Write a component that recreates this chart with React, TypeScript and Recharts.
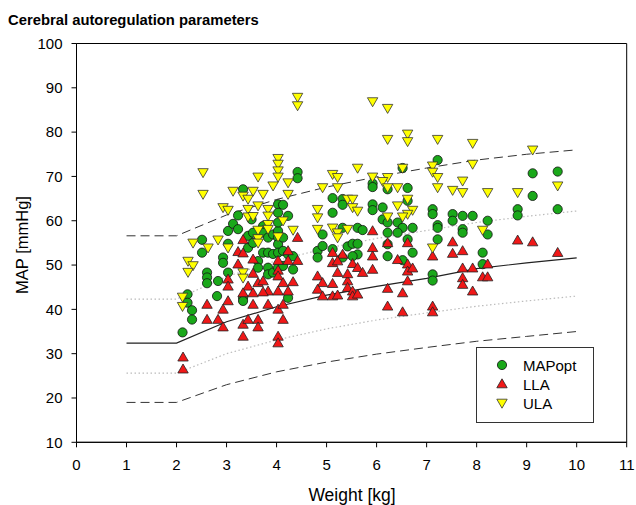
import { ScatterChart, Scatter, XAxis, YAxis, ReferenceArea } from 'recharts';

const FONT = '"Liberation Sans", Arial, Helvetica, sans-serif';

const xTicks = [0, 1, 2, 3, 4, 5, 6, 7, 8, 9, 10, 11];
const yTicks = [10, 20, 30, 40, 50, 60, 70, 80, 90, 100];

// reference curves
const curveWeights = [1, 2, 3, 4, 5, 6, 7, 8, 9, 10];
const upperDashed = [56.6, 56.6, 61.3, 64.8, 67.6, 69.9, 71.9, 73.7, 75.0, 76.0];
const upperDotted = [42.3, 42.3, 47.4, 51.0, 53.8, 56.0, 57.8, 59.6, 61.0, 62.2];
const median = [32.4, 32.4, 37.2, 40.6, 43.2, 45.2, 47.0, 49.2, 50.5, 51.6];
const lowerDotted = [25.6, 25.6, 30.0, 33.1, 35.6, 37.6, 39.2, 40.7, 41.9, 43.0];
const lowerDashed = [19.0, 19.0, 23.0, 25.9, 28.1, 29.9, 31.4, 32.8, 33.9, 35.0];

// [weight kg, MAP mmHg]
const mapOpt: [number, number][] = [
  [2.51, 55.7], [2.51, 52.8], [2.61, 48.3], [2.61, 47.2], [2.61, 45.9], [2.83, 46.4],
  [2.93, 51.7], [2.93, 50.5], [2.22, 43.4], [2.22, 41.5], [2.31, 39.8], [2.31, 37.7],
  [2.81, 43.0], [2.12, 34.8], [3.03, 54.8], [3.03, 57.7], [3.03, 48.3], [3.13, 59.3],
  [3.23, 61.2], [3.23, 58.1], [3.33, 67.1], [3.33, 42.6], [3.33, 41.9], [3.43, 56.6],
  [3.43, 53.9], [3.53, 57.3], [3.53, 55.0], [3.5, 60.3], [3.73, 58.8], [3.73, 57.3],
  [3.83, 56.2], [3.93, 56.9], [4.03, 57.7], [4.03, 56.2], [4.03, 54.7], [4.13, 56.2],
  [4.23, 61.1], [4.03, 63.7], [4.13, 63.6], [4.03, 61.8], [4.03, 59.6], [4.42, 71.0],
  [4.42, 69.6], [3.73, 52.8], [3.83, 52.8], [3.93, 52.5], [4.03, 52.8], [4.13, 53.2],
  [3.63, 50.9], [3.63, 49.4], [3.83, 49.4], [3.83, 47.9], [3.93, 48.3], [4.03, 49.4],
  [4.13, 49.8], [4.33, 49.0], [4.23, 52.4], [4.33, 52.0], [4.23, 42.6], [4.82, 53.2],
  [4.82, 51.7], [5.12, 65.1], [5.12, 61.8], [4.92, 56.9], [5.32, 64.9], [5.32, 63.6],
  [5.62, 58.4], [5.72, 57.9], [5.32, 58.4], [5.12, 53.6], [5.42, 54.2], [5.52, 54.8],
  [5.62, 54.8], [5.62, 52.4], [5.32, 51.7], [5.52, 52.0], [4.92, 54.3], [5.92, 68.4],
  [5.92, 67.6], [6.22, 67.1], [6.62, 67.4], [5.92, 63.7], [5.92, 62.4], [6.12, 63.0],
  [6.62, 64.5], [7.12, 62.6], [7.12, 61.5], [7.22, 73.7], [6.52, 71.9], [7.52, 61.5],
  [7.72, 61.1], [7.92, 61.1], [8.22, 60.0], [7.52, 60.0], [7.22, 59.0], [7.22, 58.4],
  [7.72, 58.1], [7.72, 57.3], [8.22, 56.9], [6.12, 60.3], [6.22, 59.6], [6.22, 57.3],
  [6.42, 59.6], [6.52, 58.4], [6.72, 58.4], [6.42, 57.3], [7.22, 55.8], [6.62, 55.8],
  [6.72, 52.8], [6.22, 54.7], [6.22, 52.0], [6.52, 51.1], [7.12, 47.9], [7.12, 46.5],
  [8.12, 52.8], [8.12, 50.2], [9.12, 70.7], [9.62, 71.1], [9.12, 65.6], [9.62, 62.6],
  [8.82, 62.6], [8.82, 61.2],
];

const lla: [number, number][] = [
  [2.61, 41.1], [2.61, 37.7], [2.83, 37.7], [2.13, 29.2], [2.13, 26.5], [3.33, 55.7],
  [4.42, 56.2], [3.23, 53.0], [3.33, 52.7], [3.53, 51.3], [4.03, 51.0], [4.23, 53.2],
  [4.23, 51.0], [4.42, 51.0], [3.23, 50.2], [3.53, 48.1], [4.03, 48.8], [4.03, 47.5],
  [3.03, 46.8], [3.03, 45.2], [3.43, 45.2], [3.63, 46.0], [3.73, 46.4], [3.83, 44.1],
  [4.03, 44.1], [4.13, 46.0], [4.23, 44.1], [4.33, 46.2], [3.33, 43.7], [3.53, 43.7],
  [3.73, 43.9], [3.03, 41.9], [2.93, 40.0], [3.53, 41.1], [3.83, 41.1], [4.03, 40.0],
  [4.13, 41.1], [2.93, 36.0], [3.33, 36.6], [3.43, 37.7], [3.63, 37.7], [3.63, 36.0],
  [4.13, 37.7], [3.33, 33.9], [4.03, 33.9], [4.03, 32.4], [4.82, 47.5], [4.92, 46.0],
  [4.82, 44.5], [4.92, 43.0], [5.12, 45.8], [5.12, 43.0], [5.22, 48.3], [5.22, 43.2],
  [5.42, 46.4], [5.42, 44.9], [5.52, 44.1], [5.52, 43.0], [5.62, 43.4], [5.12, 52.8],
  [5.12, 50.5], [5.32, 52.4], [5.22, 50.9], [5.52, 50.3], [5.62, 49.4], [5.72, 48.3],
  [5.92, 49.0], [5.42, 48.0], [5.92, 57.7], [6.22, 55.0], [6.62, 55.0], [7.52, 55.2],
  [7.72, 53.2], [7.52, 52.6], [5.92, 53.9], [5.92, 52.0], [7.12, 52.0], [6.42, 51.2],
  [6.62, 50.2], [6.62, 48.6], [6.72, 49.3], [6.62, 46.4], [6.22, 44.7], [6.52, 43.7],
  [6.22, 40.7], [6.52, 39.4], [7.12, 40.7], [7.12, 39.4], [7.72, 49.3], [7.92, 49.3],
  [7.72, 47.1], [7.72, 45.6], [7.92, 44.1], [8.12, 47.3], [8.22, 47.3], [8.22, 50.2],
  [8.82, 55.6], [9.12, 55.2], [9.62, 52.8],
];

const ula: [number, number][] = [
  [2.53, 66.0], [2.53, 70.9], [2.33, 55.0], [2.63, 53.9], [2.83, 55.7], [2.23, 50.9],
  [2.33, 49.9], [2.23, 48.4], [2.12, 42.8], [2.12, 40.7], [4.42, 87.9], [4.42, 86.0],
  [4.03, 74.1], [4.03, 72.8], [4.03, 71.3], [4.03, 69.9], [3.63, 69.9], [3.93, 67.9],
  [4.23, 68.6], [4.23, 66.0], [3.13, 66.7], [3.33, 65.6], [3.53, 66.7], [3.73, 66.0],
  [3.43, 64.9], [2.93, 63.0], [3.03, 62.4], [3.43, 62.6], [3.63, 63.4], [3.83, 62.6],
  [3.43, 60.9], [3.53, 61.0], [3.83, 61.1], [3.83, 59.2], [3.83, 58.1], [3.63, 57.9],
  [4.13, 60.0], [4.33, 57.9], [3.63, 56.0], [3.63, 55.0], [4.03, 56.4], [3.03, 53.9],
  [3.33, 48.3], [3.33, 47.1], [4.82, 62.6], [4.82, 60.7], [4.82, 58.1], [4.92, 67.5],
  [5.12, 70.5], [5.22, 69.8], [5.22, 67.5], [5.12, 58.4], [5.22, 57.3], [5.22, 56.2],
  [5.42, 58.1], [5.92, 86.9], [6.22, 85.4], [6.22, 78.4], [6.62, 79.6], [6.62, 77.9],
  [7.22, 78.4], [7.92, 77.5], [5.62, 71.9], [5.92, 69.9], [6.22, 69.8], [6.12, 68.9],
  [6.52, 71.9], [7.12, 72.4], [7.12, 71.0], [7.22, 69.8], [7.92, 72.8], [7.72, 69.0],
  [7.72, 66.4], [7.52, 66.9], [8.22, 66.4], [7.22, 67.5], [6.22, 67.5], [6.42, 67.5],
  [5.42, 64.9], [5.52, 64.9], [5.52, 63.0], [5.62, 62.2], [6.62, 64.9], [6.42, 63.4],
  [6.72, 62.4], [6.62, 61.5], [6.22, 60.9], [6.52, 60.9], [8.12, 57.9], [7.12, 53.9],
  [9.12, 76.0], [9.62, 67.9], [8.82, 66.4],
];

const GREEN = '#1aa81a';
const RED = '#f01818';
const YELLOW = '#ffff00';

const toPoints = (pts: [number, number][]) => pts.map(([x, y]) => ({ x, y }));
const toCurve = (vals: number[]) => curveWeights.map((x, i) => ({ x, y: vals[i] }));

const Dot = (p: any) => (
  <circle cx={p.cx} cy={p.cy} r={4.6} fill={GREEN} stroke="#111" strokeWidth={0.8} />
);
const TriUp = (p: any) => (
  <path
    d={`M${p.cx},${p.cy - 5.2} L${p.cx + 5.2},${p.cy + 3.8} L${p.cx - 5.2},${p.cy + 3.8} Z`}
    fill={RED}
    stroke="#222"
    strokeWidth={0.8}
  />
);
const TriDown = (p: any) => (
  <path
    d={`M${p.cx},${p.cy + 5.2} L${p.cx + 5.2},${p.cy - 3.8} L${p.cx - 5.2},${p.cy - 3.8} Z`}
    fill={YELLOW}
    stroke="#333"
    strokeWidth={0.8}
  />
);
const NoDot = () => <g />;

const curves = [
  { key: 'ud', vals: upperDashed, stroke: '#333', dash: '9 5', width: 1 },
  { key: 'uo', vals: upperDotted, stroke: '#bbb', dash: '1.5 2.5', width: 1.2 },
  { key: 'md', vals: median, stroke: '#222', dash: undefined, width: 1.2 },
  { key: 'lo', vals: lowerDotted, stroke: '#bbb', dash: '1.5 2.5', width: 1.2 },
  { key: 'ld', vals: lowerDashed, stroke: '#333', dash: '9 5', width: 1 },
];

const tickStyle = { fill: '#000', fontSize: 15, fontFamily: FONT };

export default function App() {
  return (
    <div style={{ position: 'absolute', left: 0, top: 0, width: 636, height: 505, background: '#fff', fontFamily: FONT }}>
      <div style={{ position: 'absolute', left: 8, top: 12, fontSize: 14.8, fontWeight: 'bold', color: '#000', whiteSpace: 'nowrap' }}>
        Cerebral autoregulation parameters
      </div>

      <ScatterChart width={636} height={505} margin={{ top: 43.5, right: 9.3, bottom: 0, left: 0 }}>
        <XAxis
          type="number"
          dataKey="x"
          domain={[0, 11]}
          ticks={xTicks}
          interval={0}
          height={62.7}
          stroke="#000"
          tickSize={5}
          tickMargin={12.5}
          tick={tickStyle}
        />
        <YAxis
          type="number"
          dataKey="y"
          domain={[10, 100]}
          ticks={yTicks}
          interval={0}
          width={76.5}
          stroke="#000"
          tickSize={5}
          tickMargin={9}
          tick={tickStyle}
        />
        {curves.map((c) => (
          <Scatter
            key={c.key}
            data={toCurve(c.vals)}
            shape={NoDot}
            line={{ stroke: c.stroke, strokeWidth: c.width, strokeDasharray: c.dash, fill: 'none' }}
            fill="none"
            isAnimationActive={false}
          />
        ))}
        <Scatter data={toPoints(mapOpt)} shape={Dot} isAnimationActive={false} />
        <Scatter data={toPoints(lla)} shape={TriUp} isAnimationActive={false} />
        <Scatter data={toPoints(ula)} shape={TriDown} isAnimationActive={false} />
        <ReferenceArea x1={0} x2={11} y1={10} y2={100} fill="none" fillOpacity={0} stroke="#000" strokeWidth={1} />
      </ScatterChart>

      <div
        style={{
          position: 'absolute', left: 21.5, top: 245, transform: 'translate(-50%, -50%) rotate(-90deg)',
          fontSize: 16.5, whiteSpace: 'nowrap', color: '#000',
        }}
      >
        MAP [mmHg]
      </div>
      <div
        style={{
          position: 'absolute', left: 352, top: 494.5, transform: 'translate(-50%, -50%)',
          fontSize: 17.5, whiteSpace: 'nowrap', color: '#000',
        }}
      >
        Weight [kg]
      </div>

      <div
        style={{
          position: 'absolute', left: 476, top: 347, width: 116, height: 74,
          border: '1px solid #333', background: '#fff', fontSize: 15, color: '#000',
        }}
      >
        {[
          { label: 'MAPopt', mark: <circle cx={7} cy={7} r={4.6} fill={GREEN} stroke="#111" strokeWidth={0.8} /> },
          { label: 'LLA', mark: <path d="M7,1.8 L12.2,10.8 L1.8,10.8 Z" fill={RED} stroke="#222" strokeWidth={0.8} /> },
          { label: 'ULA', mark: <path d="M7,12.2 L12.2,3.2 L1.8,3.2 Z" fill={YELLOW} stroke="#333" strokeWidth={0.8} /> },
        ].map((e, i) => (
          <div key={e.label} style={{ position: 'absolute', left: 18, top: 8 + i * 19, height: 18, display: 'flex', alignItems: 'center' }}>
            <svg width={14} height={14} style={{ marginRight: 14 }}>{e.mark}</svg>
            <span>{e.label}</span>
          </div>
        ))}
      </div>
    </div>
  );
}
